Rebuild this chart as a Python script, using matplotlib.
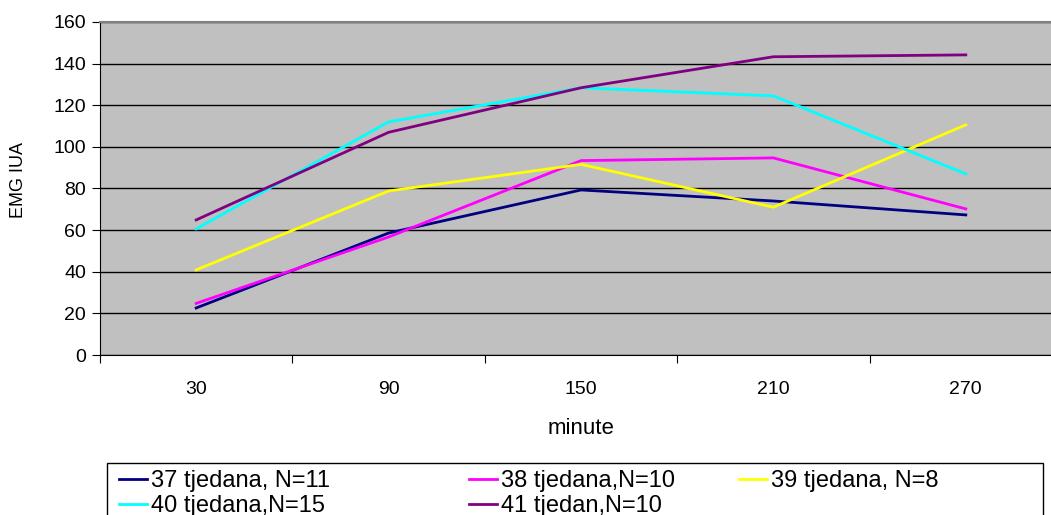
import matplotlib.pyplot as plt
from matplotlib.patches import Rectangle
import numpy as np

plt.rcParams['font.family'] = ['Liberation Sans', 'DejaVu Sans']

minutes = ['30', '90', '150', '210', '270']
labels = ['37 tjedana, N=11', '38 tjedana,N=10', '39 tjedana, N=8',
          '40 tjedana,N=15', '41 tjedan,N=10']
colors = ['#000080', '#FF00FF', '#FFFF00', '#00FFFF', '#800080']

w37 = [22.6, 58.6, 79.3, 74.0, 67.3]
w38 = [24.8, 56.7, 93.4, 94.7, 70.2]
w39 = [40.9, 78.8, 91.6, 71.0, 110.6]
w40 = [60.6, 112.0, 128.4, 124.5, 87.0]
w41 = [64.9, 107.0, 128.4, 143.3, 144.2]
series = [w37, w38, w39, w40, w41]

W, H = 1051, 515
fig = plt.figure(figsize=(W / 100, H / 100), dpi=100)
ax = fig.add_axes([100 / W, 1 - 355 / H, 962 / W, 333 / H])
ax.set_facecolor('#C0C0C0')

x = np.arange(len(minutes))
handles = []
for s, c, lab in zip(series, colors, labels):
    h, = ax.plot(x, s, color=c, lw=2, label=lab, zorder=3)
    handles.append(h)

ax.set_xlim(-0.5, len(minutes) - 0.5)
ax.set_ylim(0, 160)
ax.set_yticks(range(0, 161, 20))
ax.yaxis.grid(True, color='black', lw=1)
ax.set_axisbelow(True)

# category axis: ticks between categories, labels centred
ax.set_xticks(np.arange(-0.5, len(minutes), 1))
ax.set_xticklabels([])
ax.set_xticks(x, minor=True)
ax.set_xticklabels(minutes, minor=True)
ax.tick_params(axis='x', which='major', direction='out', length=6, color='black')
ax.tick_params(axis='x', which='minor', length=0, pad=19, labelsize=14)
ax.tick_params(axis='y', direction='out', length=6, labelsize=14, pad=4)

for side in ['top', 'right']:
    ax.spines[side].set_color('#808080')
    ax.spines[side].set_linewidth(1.5)
ax.spines['left'].set_color('black')
ax.spines['bottom'].set_color('black')

ax.set_xlabel('minute', fontsize=16, va='top')
ax.xaxis.set_label_coords(0.5, (355 - 418) / 333)
ax.set_ylabel('EMG IUA', fontsize=13)
ax.yaxis.set_label_coords((27 - 100) / 962, (355 - 180) / 333)

# legend frame, cut off at the bottom like the original
fig.patches.append(Rectangle((107 / W, -0.05), (1043 - 107) / W, 0.05 + 1 - 463 / H,
                             transform=fig.transFigure, fill=False,
                             edgecolor='black', lw=1))

cols = [[0, 3], [1, 4], [2]]
col_x = [119, 469, 739]
for idx, cx in zip(cols, col_x):
    leg = fig.legend([handles[i] for i in idx], [labels[i] for i in idx],
                     loc='upper left', bbox_to_anchor=(cx / W, 1 - 470 / H),
                     fontsize=17, frameon=False, handlelength=1.2,
                     handletextpad=0.15, labelspacing=0.12, borderpad=0,
                     borderaxespad=0)

fig.savefig('out.png', dpi=100)
